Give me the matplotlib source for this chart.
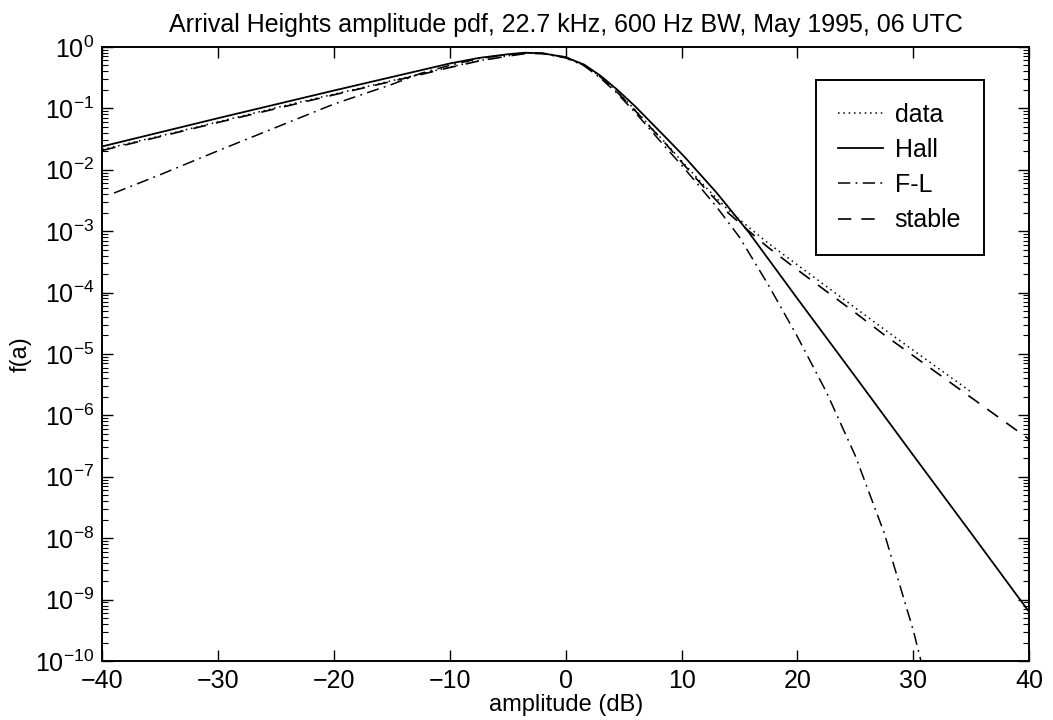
import numpy as np
import matplotlib
matplotlib.use("Agg")
import matplotlib.pyplot as plt
from matplotlib.ticker import NullFormatter, FixedLocator, LogFormatterSciNotation

plt.rcParams['font.family'] = ['Liberation Sans', 'DejaVu Sans']
plt.rcParams['mathtext.fontset'] = 'custom'
plt.rcParams['mathtext.rm'] = 'Liberation Sans'
plt.rcParams['mathtext.it'] = 'Liberation Sans:italic'
plt.rcParams['mathtext.bf'] = 'Liberation Sans:bold'

TITLE = "Arrival Heights amplitude pdf, 22.7 kHz, 600 Hz BW, May 1995, 06 UTC"
X_LABEL = "amplitude (dB)"
Y_LABEL = "f(a)"
x_ticks = [-40, -30, -20, -10, 0, 10, 20, 30, 40]
y_decades = [-10, -9, -8, -7, -6, -5, -4, -3, -2, -1, 0]
series_names = ["data", "Hall", "F-L", "stable"]

# values: amplitude (dB) and log10 f(a)
data_db = [-40, -35, -30, -25, -20, -15, -12.5, -10, -7.5, -5, -3.5, -2, 0, 1.6, 3, 4.4, 6,
           7.3, 8.5, 10.2, 12, 14, 16, 17.5, 20, 22.5, 25, 27.5, 30, 32.5, 35]
data_log10 = [-1.67, -1.45, -1.22, -0.99, -0.77, -0.55, -0.44, -0.33, -0.225, -0.145, -0.105,
              -0.10, -0.165, -0.295, -0.485, -0.72, -1.03, -1.30, -1.54, -1.90, -2.27, -2.65,
              -2.97, -3.20, -3.55, -3.90, -4.25, -4.60, -4.94, -5.28, -5.62]

hall_db = [-40, -35, -30, -25, -20, -15, -12.5, -10, -7.5, -5, -3.5, -2, 0, 1.6, 3, 4.4, 6,
           7.3, 8.5, 10.2, 13, 15.8, 20, 25, 30, 35, 40]
hall_log10 = [-1.62, -1.39, -1.16, -0.935, -0.71, -0.49, -0.38, -0.27, -0.18, -0.12, -0.095,
              -0.105, -0.17, -0.29, -0.47, -0.69, -0.97, -1.22, -1.45, -1.78, -2.37, -3.02,
              -4.10, -5.37, -6.65, -7.92, -9.20]

fl_db = [-39, -35, -30, -25, -20, -15, -12.5, -10, -7.5, -5, -3.5, -2, 0, 1.6, 3, 4.4, 6,
         7.3, 8.5, 10.2, 13, 15, 17.5, 20, 22.5, 25, 27.5, 30, 30.8]
fl_log10 = [-2.38, -2.08, -1.69, -1.31, -0.93, -0.61, -0.43, -0.30, -0.19, -0.125, -0.10,
            -0.11, -0.18, -0.31, -0.51, -0.75, -1.07, -1.35, -1.61, -1.97, -2.60, -3.10,
            -3.88, -4.72, -5.62, -6.66, -7.92, -9.50, -10.1]

stable_db = [-40, -35, -30, -25, -20, -15, -12.5, -10, -7.5, -5, -3.5, -2, 0, 1.6, 3, 4.4, 6,
             7.3, 8.5, 10.2, 12, 14, 16, 17.5, 20, 22.5, 25, 27.5, 30, 32.5, 35, 37.5, 40]
stable_log10 = [-1.685, -1.46, -1.23, -1.005, -0.78, -0.56, -0.45, -0.335, -0.23, -0.15, -0.11,
                -0.105, -0.17, -0.30, -0.49, -0.73, -1.04, -1.31, -1.55, -1.92, -2.30, -2.70,
                -3.03, -3.27, -3.63, -3.98, -4.33, -4.69, -5.03, -5.37, -5.71, -6.05, -6.39]

fig = plt.figure(figsize=(10.53, 7.2), dpi=100)
ax = fig.add_axes([0.0973, 0.0819, 0.880, 0.853])
ax.set_yscale('log')

styles = {
    "data": dict(ls=(0, (1.0, 2.5)), lw=1.1),
    "Hall": dict(ls='-', lw=1.3),
    "F-L": dict(ls=(0, (8, 3.5, 1.2, 3.5)), lw=1.1),
    "stable": dict(ls=(0, (8, 6)), lw=1.2),
}
series = {
    "data": (data_db, data_log10),
    "Hall": (hall_db, hall_log10),
    "F-L": (fl_db, fl_log10),
    "stable": (stable_db, stable_log10),
}
for name in series_names:
    xs, ls10 = series[name]
    ax.plot(xs, np.power(10.0, np.array(ls10)), color='black', label=name, **styles[name])

ax.set_xlim(-40, 40)
ax.set_ylim(1e-10, 1)
ax.xaxis.set_major_locator(FixedLocator(x_ticks))
major_y = [10.0 ** d for d in y_decades]
minor_y = [m * 10.0 ** d for d in y_decades[:-1] for m in range(2, 10)]
ax.yaxis.set_major_locator(FixedLocator(major_y))
ax.yaxis.set_major_formatter(LogFormatterSciNotation(base=10))
ax.yaxis.set_minor_locator(FixedLocator(minor_y))
ax.yaxis.set_minor_formatter(NullFormatter())
ax.tick_params(which='both', direction='in', top=True, right=True, labelsize=18, pad=6)
ax.tick_params(which='major', length=8, width=1.0)
ax.tick_params(which='minor', length=4, width=0.8)
for s in ax.spines.values():
    s.set_linewidth(1.4)

ax.set_title(TITLE, fontsize=18, pad=11)
ax.set_xlabel(X_LABEL, fontsize=17)
ax.set_ylabel(Y_LABEL, fontsize=17)
ax.xaxis.set_label_coords(0.5, -0.054)
ax.yaxis.set_label_coords(-0.076, 0.5)

leg = ax.legend(loc='upper right', bbox_to_anchor=(0.951, 0.946), borderaxespad=0,
                fontsize=18, frameon=True, fancybox=False, shadow=False,
                handlelength=1.8, handletextpad=0.45, labelspacing=0.45, borderpad=0.9)
leg.get_frame().set_edgecolor('black')
leg.get_frame().set_linewidth(1.4)
leg.get_frame().set_alpha(1)

fig.savefig("out.png", dpi=100)
